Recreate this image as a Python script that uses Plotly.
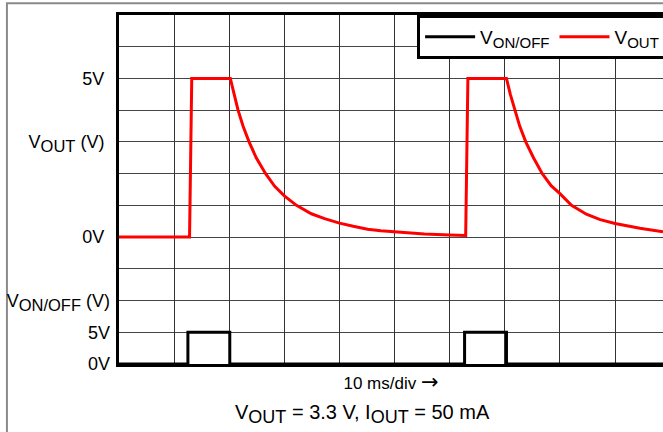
import plotly.graph_objects as go

# time axis in ms (10 ms/div)
t_out = [0, 12.8, 13.2, 20.2, 20.9, 21.6, 22.5, 23.6, 24.9, 26.6, 28.25, 30.0, 32.2, 34.9, 37.3,
         40.0, 42.5, 45.1, 47.5, 50.0, 55.4, 60.0, 62.9,
         63.3, 70.3, 71.0, 71.8, 72.7, 73.8, 75.2, 76.8, 78.4, 80.0, 82.1, 84.8, 87.3, 90.0,
         94.5, 98.7]
v_out = [0, 0, 5, 5, 4.5, 4, 3.5, 3, 2.5, 2, 1.6, 1.30, 1.0, 0.735, 0.58,
         0.44, 0.34, 0.25, 0.20, 0.16, 0.095, 0.063, 0.05,
         5, 5, 4.5, 4, 3.5, 3, 2.5, 2, 1.62, 1.37, 1.0, 0.72, 0.55, 0.43,
         0.28, 0.17]

t_on = [0, 12.5, 12.5, 20.1, 20.1, 62.7, 62.7, 70.3, 70.3, 98.7]
v_on = [0, 0, 5, 5, 0, 0, 5, 5, 0, 0]


def sub(txt, size):
    return f"<sub><span style='font-size:{size}px'>{txt}</span></sub>"


vout_tickvals = [0, 3, 5]
vout_ticktext = ["0V", "V" + sub("OUT", 16.5) + " (V)", "5V"]
von_tickvals = [0, 5, 10]
von_ticktext = ["0V", "5V", "V" + sub("ON/OFF", 16.5) + " (V)"]

FONT = "Liberation Sans, Arial, sans-serif"

fig = go.Figure()
fig.add_trace(go.Scatter(x=t_on, y=v_on, mode="lines", name="V" + sub("ON/OFF", 15),
                         line=dict(color="black", width=3), yaxis="y2"))
fig.add_trace(go.Scatter(x=t_out, y=v_out, mode="lines", name="V" + sub("OUT", 15),
                         line=dict(color="#ff0000", width=3), yaxis="y"))

fig.update_layout(
    width=663, height=432,
    margin=dict(l=119, r=0, t=15, b=68, autoexpand=False),
    paper_bgcolor="white", plot_bgcolor="white",
    font=dict(family=FONT, size=18, color="#000"),
    showlegend=True,
    legend=dict(orientation="h", x=0.548, xanchor="left", y=1, yanchor="top",
                bordercolor="black", borderwidth=3, bgcolor="white",
                font=dict(size=19), itemwidth=50, tracegroupgap=0),
    xaxis=dict(range=[0, 98.7], dtick=10, tick0=0, showgrid=True, gridcolor="#333",
               gridwidth=1, showticklabels=False, ticks="", zeroline=False,
               showline=True, linecolor="black", linewidth=3, mirror=True,
               automargin=False,
               title=dict(text="10 ms/div <span style='font-family:DejaVu Sans;font-size:21px'>\u2192</span>",
                          font=dict(size=17), standoff=12)),
    yaxis=dict(range=[-4, 7], tickmode="array", tickvals=vout_tickvals, ticktext=vout_ticktext,
               showgrid=True, gridcolor="#444", gridwidth=1.2,
               minor=dict(dtick=1, tick0=0, showgrid=True, gridcolor="#444", gridwidth=1.2),
               zeroline=False, showline=True, linecolor="black", linewidth=3,
               ticks="", ticklabelstandoff=8, automargin=False),
    yaxis2=dict(range=[0, 55], overlaying="y", side="left", tickmode="array",
                tickvals=von_tickvals, ticktext=von_ticktext, showgrid=False,
                zeroline=False, showline=False, ticks="", ticklabelstandoff=8,
                automargin=False),
)

fig.add_annotation(text="V" + sub("OUT", 18) + " = 3.3 V, I" + sub("OUT", 18) + " = 50 mA",
                   xref="paper", yref="paper", x=0.447, y=-0.143,
                   xanchor="center", yanchor="middle", showarrow=False,
                   font=dict(size=20, family=FONT, color="#000"))

fig.add_shape(type="rect", xref="paper", yref="paper",
              x0=-0.206, y0=-0.3, x1=1.2, y1=1.034,
              line=dict(color="#8a8a8a", width=2), layer="below")

fig.write_html("out.html", config={"displayModeBar": False},
               post_script="document.body.style.margin='0';document.body.style.overflow='hidden';")
